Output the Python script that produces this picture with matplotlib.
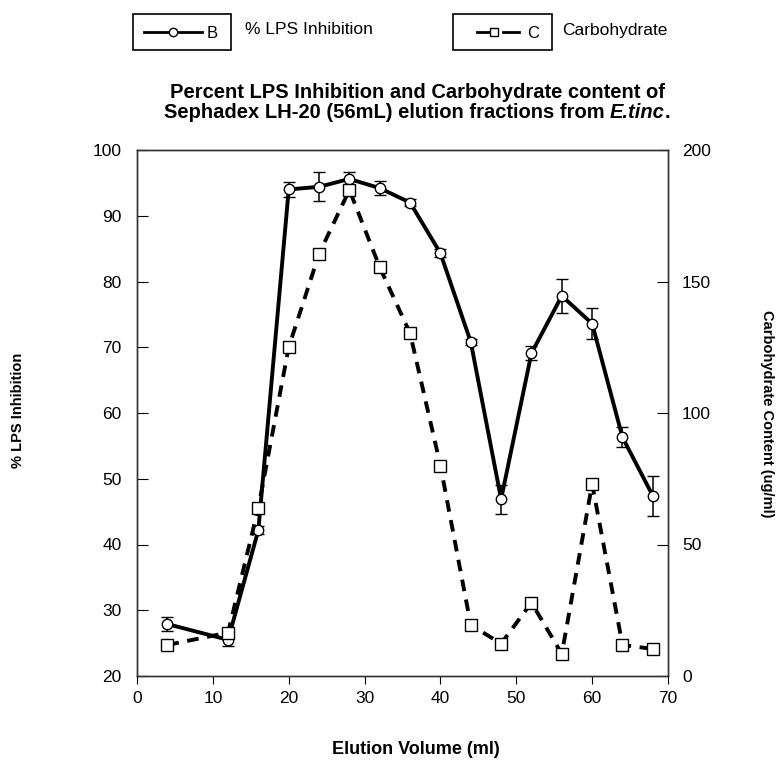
import matplotlib
matplotlib.use('Agg')
import matplotlib.pyplot as plt
from matplotlib.lines import Line2D
from matplotlib.patches import Rectangle

plt.rcParams['font.family'] = ['Liberation Sans', 'DejaVu Sans']

# elution volume (ml)
volume = [4, 12, 16, 20, 24, 28, 32, 36, 40, 44, 48, 52, 56, 60, 64, 68]
# % LPS inhibition and error
lps = [27.9, 25.5, 42.2, 94.0, 94.4, 95.6, 94.2, 92.0, 84.3, 70.8, 46.9, 69.1, 77.8, 73.6, 56.3, 47.4]
lps_err = [1.0, 1.0, 0.6, 1.1, 2.2, 1.1, 1.1, 0.5, 0.6, 0.5, 2.2, 1.1, 2.6, 2.4, 1.5, 3.0]
# carbohydrate content (ug/ml)
carb = [11.8, 16.5, 64, 125, 160.5, 184.8, 155.4, 130.3, 80, 19.4, 12.3, 27.9, 8.4, 73, 11.8, 10.3]

fig = plt.figure(figsize=(7.77, 7.63), dpi=100)
W, H = 777, 763
ax = fig.add_axes([137 / W, 1 - 676 / H, (668 - 137) / W, (676 - 150) / H])
ax2 = ax.twinx()

ax.errorbar(volume, lps, yerr=lps_err, color='black', lw=2.8, marker='o', ms=7.5,
            mfc='white', mec='black', mew=1.0, capsize=4, elinewidth=1.1, capthick=1.1, zorder=3)
ax2.plot(volume, carb, color='black', lw=2.8, ls=(0, (3, 2.2)), marker='s', ms=8,
         mfc='white', mec='black', mew=1.0, zorder=2)

ax.set_xlim(0, 70)
ax.set_ylim(20, 100)
ax2.set_ylim(0, 200)
ax.set_xticks(range(0, 71, 10))
ax.set_yticks(range(20, 101, 10))
ax2.set_yticks(range(0, 201, 50))

ax.tick_params(axis='x', direction='out', length=6, labelsize=12.5, pad=5)
ax.tick_params(axis='y', direction='in', length=8, labelsize=12.5, pad=11)
ax2.tick_params(axis='y', direction='in', length=8, labelsize=12.5, pad=10)
for a in (ax, ax2):
    for s in a.spines.values():
        s.set_color('#333333')
        s.set_linewidth(1.0)

ax.set_xlabel('Elution Volume (ml)', fontsize=13, fontweight='bold')
ax.xaxis.set_label_coords((416 - 137) / 531, (676 - 750) / 526)
ax.xaxis.label.set_va('center')
ax.set_ylabel('% LPS Inhibition', fontsize=10.5, fontweight='bold')
ax.yaxis.set_label_coords((18 - 137) / 531, (676 - 410) / 526)
ax.yaxis.label.set_va('center')
ax2.set_ylabel('Carbohydrate Content (ug/ml)', fontsize=10.5, fontweight='bold', rotation=270)
ax2.yaxis.set_label_coords((767 - 137) / 531, (676 - 414) / 526)
ax2.yaxis.label.set_va('center')

# title, second line ends with an italic species name
fig.text(417 / W, 1 - 92 / H, 'Percent LPS Inhibition and Carbohydrate content of',
         ha='center', va='center', fontsize=14.5, fontweight='bold')
renderer = fig.canvas.get_renderer()
t_a = fig.text(0, 1 - 112 / H, 'Sephadex LH-20 (56mL) elution fractions from ',
               va='center', fontsize=14.5, fontweight='bold')
t_b = fig.text(0, 1 - 112 / H, 'E.tinc', va='center', fontsize=14.5,
               fontweight='bold', style='italic')
t_c = fig.text(0, 1 - 112 / H, '.', va='center', fontsize=14.5, fontweight='bold')
widths = [t.get_window_extent(renderer).width for t in (t_a, t_b, t_c)]
x = 417 - sum(widths) / 2
for t, w in zip((t_a, t_b, t_c), widths):
    t.set_x(x / W)
    x += w

# legend boxes drawn in figure pixels
def fx(px):
    return px / W

def fy(py):
    return 1 - py / H

def seg(x0, x1, y):
    fig.add_artist(Line2D([fx(x0), fx(x1)], [fy(y), fy(y)], color='black', lw=2,
                          transform=fig.transFigure))

def mark(x, y, m):
    fig.add_artist(Line2D([fx(x)], [fy(y)], color='black', marker=m, ms=6,
                          mfc='white', mew=1, transform=fig.transFigure))

for bx0, bx1 in [(133, 231), (453, 552)]:
    fig.add_artist(Rectangle((fx(bx0), fy(50)), (bx1 - bx0) / W, 36 / H,
                             transform=fig.transFigure, fill=False, ec='black', lw=1.2))

seg(144, 202, 32)
mark(173, 32, 'o')
fig.text(fx(207), fy(33), 'B', fontsize=12, va='center')
fig.text(fx(245), fy(30), '% LPS Inhibition', fontsize=12.5, va='center')

seg(477, 493, 32)
mark(494, 32, 's')
seg(503, 519, 32)
fig.text(fx(527), fy(33), 'C', fontsize=12, va='center')
fig.text(fx(562), fy(30), 'Carbohydrate', fontsize=12.5, va='center')

fig.savefig('out.png', dpi=100)
